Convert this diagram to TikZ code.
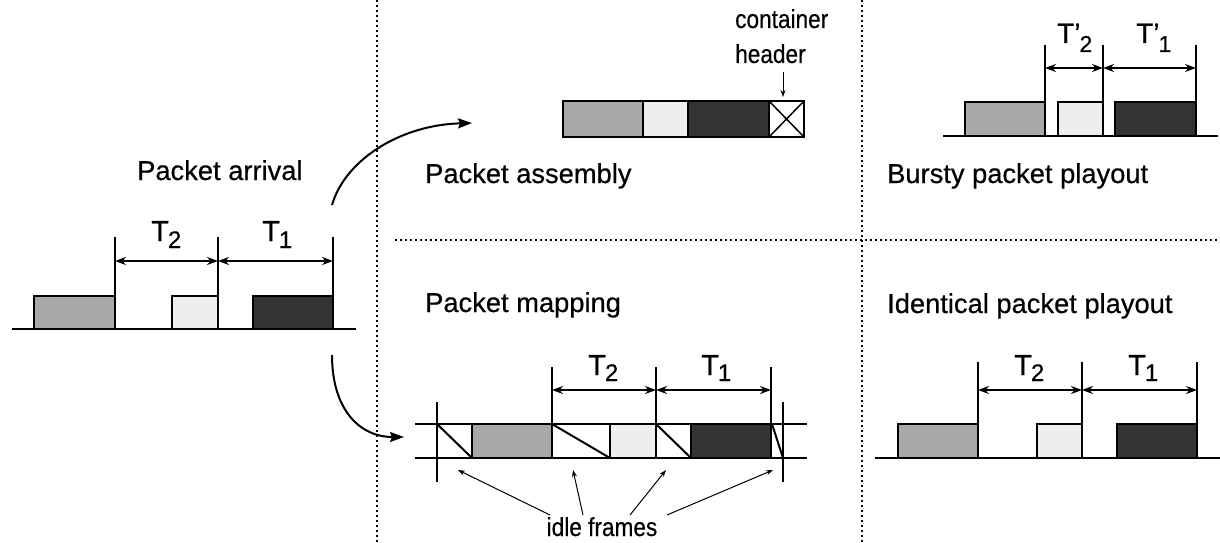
\documentclass[tikz,border=0pt]{standalone}
\usepackage{fontspec}
\setmainfont[FakeBold=0.5]{Liberation Sans}
\newfontfamily\narrowfont[FakeStretch=0.87,FakeBold=0.4]{Liberation Sans}
\usetikzlibrary{arrows.meta}
\definecolor{pgray}{HTML}{A8A8A8}
\definecolor{plight}{HTML}{EEEEEE}
\definecolor{pdark}{HTML}{333333}
\newcommand\bigT[5]{% #1 T size, #2 sub, #3 sub size, #4 kern, #5 drop
{\fontsize{#1}{#1}\selectfont T}\kern#4\raisebox{-#5}{\fontsize{#3}{#3}\selectfont #2}}
\newcommand\primeT[5]{%
{\fontsize{#1}{#1}\selectfont T’}\kern#4\raisebox{-#5}{\fontsize{#3}{#3}\selectfont #2}}
\tikzset{
  x=1pt, y=-1pt,
  lbl/.style={font=\fontsize{27.3}{30}\selectfont, anchor=base west, inner sep=0pt},
  small/.style={font=\narrowfont\fontsize{26}{35}\selectfont, inner sep=0pt},
  tlab/.style={anchor=base west, inner sep=0pt},
  box/.style={draw=black, line width=2pt},
  rule/.style={line width=2pt},
  dim/.style={line width=1.8pt, {Stealth[length=11pt,width=8pt]}-{Stealth[length=11pt,width=8pt]}},
  curv/.style={line width=2pt, -{Stealth[length=14pt,width=10pt,inset=2pt]}},
  thin/.style={line width=1pt, -{Stealth[length=7pt,width=5pt]}},
  sep/.style={line width=2.2pt, dash pattern=on 2pt off 3pt}
}
\begin{document}
\begin{tikzpicture}
\useasboundingbox (0,0) rectangle (1220,543);
% separators
\draw[sep] (377,0) -- (377,543);
\draw[sep] (862,0) -- (862,543);
\draw[sep] (395,240) -- (1220,240);

% ---------- Packet arrival ----------
\node[lbl] (arr) at (137,180) {Packet arrival};
\draw[box, fill=pgray] (34,329) rectangle (115,296);
\draw[box, fill=plight] (172,329) rectangle (218,296);
\draw[box, fill=pdark] (253,329) rectangle (333,296);
\draw[rule] (12,329) -- (356,329);
\draw[rule] (115,237) -- (115,296);
\draw[rule] (218,237) -- (218,296);
\draw[rule] (333,237) -- (333,296);
\draw[dim] (115,261) -- (218,261);
\draw[dim] (218,261) -- (333,261);
\node[tlab] (aT2) at (151,241) {\bigT{29}{2}{24}{-1pt}{7pt}};
\node[tlab] (aT1) at (262,241) {\bigT{29}{1}{24}{-1pt}{7pt}};

% curved arrows
\coordinate (up0) at (332,205);
\coordinate (up1) at (472,123);
\coordinate (dn0) at (332,355);
\coordinate (dn1) at (404,437);
\draw[curv] (up0) .. controls (345,160) and (400,125) .. (up1);
\draw[curv] (dn0) .. controls (332,410) and (360,437) .. (dn1);

% ---------- Packet assembly ----------
\node[lbl] (asm) at (425,183) {Packet assembly};
\draw[box, fill=pgray] (563,101) rectangle (643,137);
\draw[box, fill=plight] (643,101) rectangle (688,137);
\draw[box, fill=pdark] (688,101) rectangle (769,137);
\draw[box, fill=white] (769,101) rectangle (804,137);
\draw[line width=1.5pt] (769,101) -- (804,137) (769,137) -- (804,101);
\node[small, anchor=base west] (cont) at (735,28) {container};
\node[small, anchor=base west] (hdr) at (735,63) {header};
\coordinate (hdrtip) at (783,97);
\draw[thin] (783,72) -- (hdrtip);

% ---------- Bursty packet playout ----------
\node[lbl] (bur) at (887,183) {Bursty packet playout};
\draw[box, fill=pgray] (965,136) rectangle (1045,102);
\draw[box, fill=plight] (1058,136) rectangle (1103,102);
\draw[box, fill=pdark] (1115,136) rectangle (1196,102);
\draw[rule] (943,136) -- (1218,136);
\draw[rule] (1045,45) -- (1045,102);
\draw[rule] (1103,45) -- (1103,102);
\draw[rule] (1196,45) -- (1196,102);
\draw[dim] (1045,68) -- (1103,68);
\draw[dim] (1103,68) -- (1196,68);
\node[tlab] (bT2) at (1057,43) {\primeT{28}{2}{23}{-1pt}{9pt}};
\node[tlab] (bT1) at (1136,43) {\primeT{28}{1}{23}{-1pt}{9pt}};

% ---------- Packet mapping ----------
\node[lbl] (map) at (425,312) {Packet mapping};
\draw[box, fill=white] (437,424) rectangle (472,458);
\draw[box, fill=pgray] (472,424) rectangle (552,458);
\draw[box, fill=white] (552,424) rectangle (610,458);
\draw[box, fill=plight] (610,424) rectangle (656,458);
\draw[box, fill=white] (656,424) rectangle (691,458);
\draw[box, fill=pdark] (691,424) rectangle (771,458);
\draw[rule] (415,424) -- (807,424);
\draw[rule] (415,458) -- (807,458);
\draw[rule] (437,402) -- (437,482);
\draw[rule] (783,402) -- (783,482);
\draw[rule] (437,424) -- (472,458);
\draw[rule] (552,424) -- (610,458);
\draw[rule] (656,424) -- (691,458);
\draw[rule] (772,424) -- (783,458);
\draw[rule] (552,367) -- (552,424);
\draw[rule] (656,367) -- (656,424);
\draw[rule] (771,367) -- (771,424);
\draw[dim] (552,390) -- (656,390);
\draw[dim] (656,390) -- (771,390);
\node[tlab] (mT2) at (588,375) {\bigT{29}{2}{24}{-1pt}{6pt}};
\node[tlab] (mT1) at (701,375) {\bigT{29}{1}{24}{-1pt}{6pt}};
\node[small, anchor=base] (idle) at (602,536) {idle frames};
\coordinate (i1) at (458,470);
\coordinate (i2) at (573,470);
\coordinate (i3) at (666,470);
\coordinate (i4) at (773,470);
\draw[thin] (550,515) -- (i1);
\draw[thin] (583,515) -- (i2);
\draw[thin] (630,515) -- (i3);
\draw[thin] (667,515) -- (i4);

% ---------- Identical packet playout ----------
\node[lbl] (ide) at (887,313) {Identical packet playout};
\draw[box, fill=pgray] (898,458) rectangle (978,424);
\draw[box, fill=plight] (1037,458) rectangle (1082,424);
\draw[box, fill=pdark] (1117,458) rectangle (1197,424);
\draw[rule] (875,458) -- (1220,458);
\draw[rule] (978,362) -- (978,424);
\draw[rule] (1082,362) -- (1082,424);
\draw[rule] (1197,362) -- (1197,424);
\draw[dim] (978,390) -- (1082,390);
\draw[dim] (1082,390) -- (1197,390);
\node[tlab] (iT2) at (1014,375) {\bigT{29}{2}{24}{-1pt}{6pt}};
\node[tlab] (iT1) at (1128,375) {\bigT{29}{1}{24}{-1pt}{6pt}};
\end{tikzpicture}
\end{document}
